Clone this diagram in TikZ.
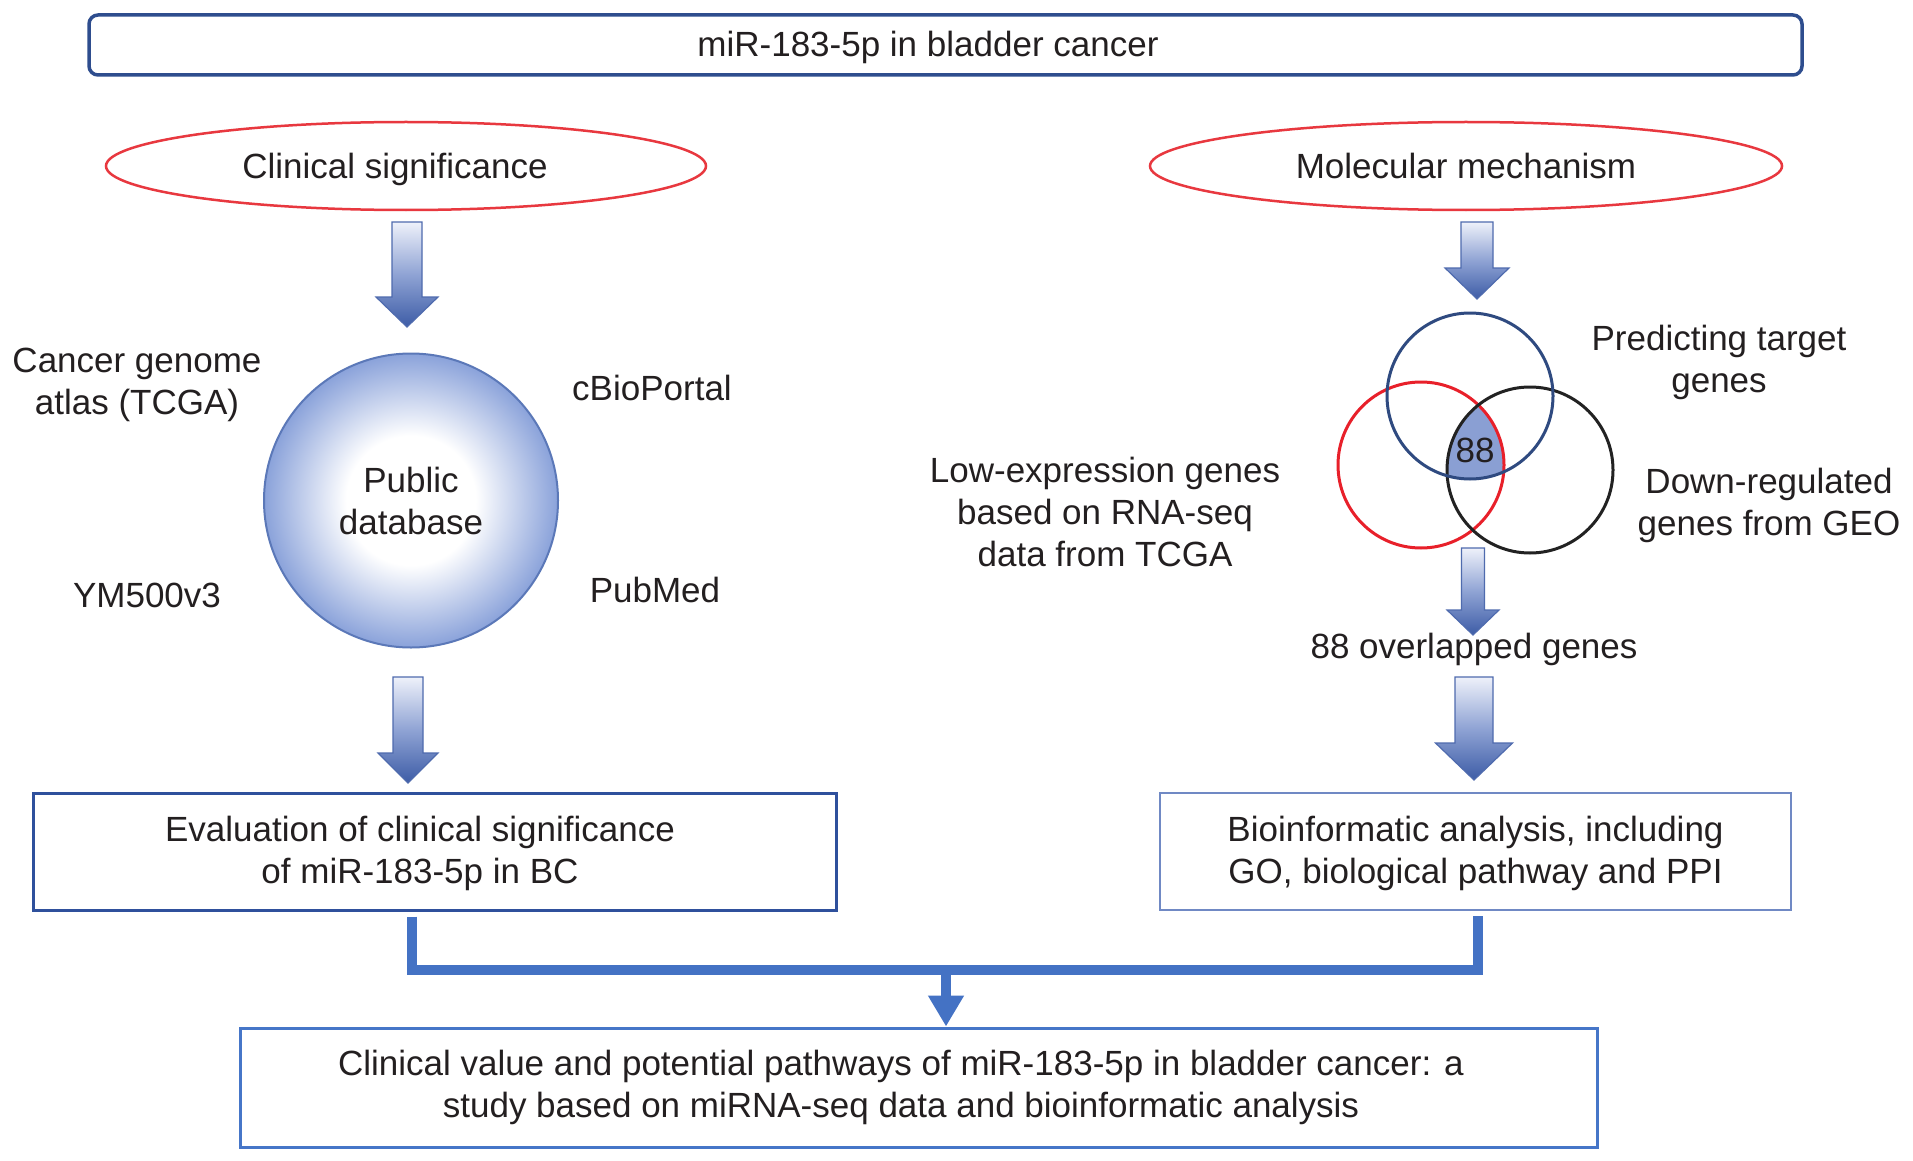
\documentclass[tikz,border=0pt]{standalone}
\usepackage{fontspec}
\setmainfont{Liberation Sans}
\usetikzlibrary{shapes.geometric,arrows.meta,calc}
\definecolor{txt}{HTML}{231F20}
\definecolor{titleblue}{HTML}{2E4D8E}
\definecolor{ellred}{HTML}{E8383F}
\definecolor{lboxblue}{HTML}{2F509C}
\definecolor{rboxblue}{HTML}{7089C4}
\definecolor{bboxblue}{HTML}{4676C8}
\definecolor{connblue}{HTML}{4472C4}
\definecolor{circline}{HTML}{5B78B8}
\definecolor{circblue}{HTML}{8AA2DA}
\definecolor{arrtop}{HTML}{EEF1FA}
\definecolor{arrmid}{HTML}{8FA3D4}
\definecolor{arrbot}{HTML}{3D5CA6}
\definecolor{arrline}{HTML}{4F6BAE}
\definecolor{vennblue}{HTML}{2F4A80}
\definecolor{vennred}{HTML}{E8202A}
\definecolor{vennblack}{HTML}{222222}
\definecolor{vennfill}{HTML}{8A9FD3}
\pgfdeclareradialshading{dbshade}{\pgfpoint{0bp}{0bp}}{color(0bp)=(white); color(11bp)=(white); color(25bp)=(circblue); color(50bp)=(circblue)}
\newcommand{\blockarr}[6]{%
  \path[blockarrow] ({#1-#5/2},#2) -- ({#1+#5/2},#2) -- ({#1+#5/2},#3) -- ({#1+#6/2},#3) -- (#1,#4) -- ({#1-#6/2},#3) -- ({#1-#5/2},#3) -- cycle;}
\newcommand{\padr}[1]{\hspace*{#1pt}}
\tikzset{
  every node/.style={font=\fontsize{35}{42}\selectfont, text=txt, inner sep=0pt},
  lbl/.style={align=center},
  titlebox/.style={draw=titleblue, line width=3.5pt, rounded corners=9pt, minimum width=1713pt, minimum height=60pt, text height=31pt, text depth=7.4pt},
  ell/.style={ellipse, draw=ellred, line width=2.5pt, minimum height=88pt, text height=31.5pt, text depth=7.4pt},
  boxnode/.style={rectangle, align=center, line width=3pt},
  venn/.style={circle, minimum size=166pt, line width=3pt},
  blockarrow/.style={draw=arrline, line width=1.2pt, top color=arrtop, bottom color=arrbot, middle color=arrmid},
  conn/.style={draw=connblue, line width=10pt, line join=miter}
}
\begin{document}
\begin{tikzpicture}[x=1pt,y=-1pt]
\useasboundingbox (0,0) rectangle (1913,1161);
\fill[white] (0,0) rectangle (1913,1161);

% title
\node[titlebox] (title) at (945.5,45) {miR-183-5p in bladder cancer\padr{35}};

% ellipses
\node[ell, minimum width=600pt] (lell) at (406,166) {Clinical significance\padr{22}};
\node[ell, minimum width=632pt] (rell) at (1466,166) {Molecular mechanism};

% left column
\blockarr{407}{222}{297}{327}{30}{62}
\node[circle, minimum size=294pt, draw=circline, line width=2pt, shade, shading=dbshade, align=center] (db) at (411,500.5) {Public\\database};
\node[lbl] (tcga) at (137,385) {Cancer genome\\atlas (TCGA)};
\node[lbl, anchor=base] (cbio) at (652,400) {cBioPortal};
\node[lbl, anchor=base] (ym) at (147,607) {YM500v3};
\node[lbl, anchor=base] (pub) at (655,602) {PubMed};
\blockarr{408}{677}{753}{783}{30}{60}
\node[boxnode, draw=lboxblue, minimum width=803pt, minimum height=117pt] (lbox) at (434.5,851.5) {\rule{0pt}{29pt}Evaluation of clinical significance\padr{29}\\of miR-183-5p in BC\padr{29}};

% right column
\blockarr{1477}{222}{268}{299}{32}{64}
\coordinate (cb) at (1470,396);
\coordinate (cr) at (1421,465);
\coordinate (ck) at (1530,470);
\begin{scope}
  \clip (cb) circle (83pt);
  \clip (cr) circle (83pt);
  \fill[vennfill] (ck) circle (83pt);
\end{scope}
\node[venn, draw=vennred] (vr) at (cr) {};
\node[venn, draw=vennblack] (vk) at (ck) {};
\node[venn, draw=vennblue] (vb) at (cb) {};
\node[lbl, anchor=base] (n88) at (1475,462) {88};
\node[lbl] (pred) at (1719,362) {Predicting target\\genes};
\node[lbl] (low) at (1105,512) {Low-expression genes\\based on RNA-seq\\data from TCGA};
\node[lbl] (down) at (1769,505) {Down-regulated\\genes from GEO};
\blockarr{1473}{548}{610}{635}{23}{52}
\node[lbl, anchor=base] (ov) at (1474,658) {88 overlapped genes};
\blockarr{1474}{677}{743}{780}{38}{77}
\node[boxnode, draw=rboxblue, line width=2.5pt, minimum width=631pt, minimum height=117pt] (rbox) at (1475.5,851.5) {\rule{0pt}{29pt}Bioinformatic analysis, including\\GO, biological pathway and PPI};

% bottom
\node[boxnode, draw=bboxblue, minimum width=1357pt, minimum height=119pt] (bbox) at (918.5,1087.5) {Clinical value and potential pathways of miR-183-5p in bladder cancer: a\padr{35}\\study based on miRNA-seq data and bioinformatic analysis\padr{35}};

\coordinate (jl) at (412,970);
\coordinate (jr) at (1478,970);
\coordinate (jm) at (946,970);
\draw[conn] ($(lbox.south -| jl)+(0,5)$) -- (jl) -- (jr) -- ($(rbox.south -| jr)+(0,5)$);
\draw[conn, -{Triangle[width=34pt,length=31pt]}] (jm) -- (bbox.north -| jm);
\end{tikzpicture}
\end{document}
